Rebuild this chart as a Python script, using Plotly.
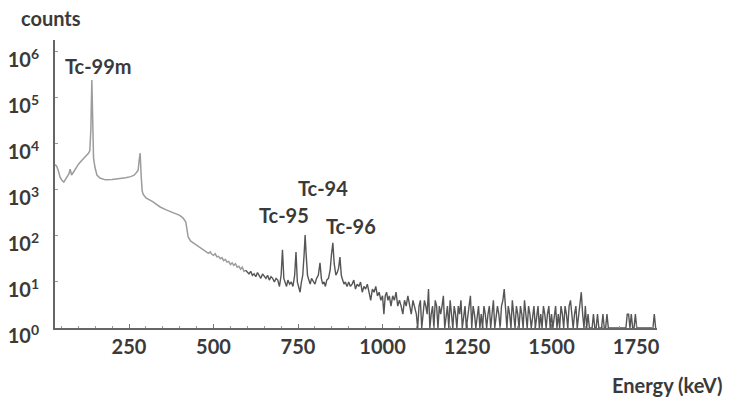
import plotly.graph_objects as go

# Gamma spectrum (energy in keV, counts)
energy_low = [31, 36, 41, 46, 52, 57, 62, 67, 72, 76, 80, 85, 92, 100, 108, 116, 124, 130, 134, 137, 140, 142, 145, 149, 155, 164,
              180, 200, 220, 240, 255, 265, 272, 277, 280, 283, 286, 289, 292, 300, 320, 342, 360, 380, 400, 410, 418, 425, 432,
              440, 450, 460, 470, 480, 485, 490, 495, 500, 505, 510, 515, 520, 525, 530, 535, 540, 545, 550, 555, 560, 565,
              570, 575, 580, 585, 590, 595]
counts_low = [3550, 3300, 2600, 1900, 1600, 1480, 1700, 2000, 2240, 2820, 2100, 2400, 3000, 3600, 4200, 4800, 5600, 6300, 7100,
              20000, 245000, 31600, 5000, 3160, 2100, 1820, 1660, 1700, 1750, 1850, 1950, 2100, 2400, 2690, 4500, 6300, 2000,
              950, 800, 676, 560, 427, 370, 316, 280, 245, 200, 95, 78, 71, 63, 58, 50, 46, 42, 45, 40, 38, 41, 35, 36, 32, 34,
              29, 31, 27, 28, 24, 26, 23, 25, 21, 22, 19, 21, 17, 18]

energy_mid = [600, 605, 610, 615, 620, 625, 630, 635, 640, 645, 650, 655, 660, 665, 670, 675, 680, 685, 690, 695, 700, 704,
              708, 712, 716, 720, 725, 730, 735, 740, 744, 748, 752, 756, 760, 764, 768, 771, 774, 778, 782, 786, 790, 795,
              800, 805, 810, 815, 819, 823, 827, 831, 835, 840, 845, 849, 853, 857, 862, 866, 870, 874, 878, 882, 886, 890,
              895, 900, 905, 910, 915, 920, 925, 930, 935, 940, 945, 950, 955, 960, 965, 970, 975, 980, 985, 990, 995, 1000,
              1004, 1008, 1012, 1016, 1020, 1025, 1030, 1035, 1040, 1045, 1050, 1055, 1060, 1065, 1070, 1075, 1080, 1085,
              1090, 1095]
counts_mid = [16, 15, 17, 14, 15, 13, 16, 14, 12, 15, 13, 12, 14, 11, 13, 12, 10, 12, 11, 8, 14, 50,
              12, 10, 8, 11, 9, 10, 8, 14, 45, 10, 7, 6, 10, 14, 40, 105, 40, 14, 11, 9, 12, 10,
              9, 12, 14, 26, 12, 9, 10, 8, 11, 12, 18, 40, 71, 25, 14, 16, 20, 35, 14, 11, 9, 10,
              8, 10, 8, 9, 11, 7, 9, 8, 10, 6, 8, 7, 9, 6, 4, 7, 6, 8, 5, 6, 4, 5,
              2, 5, 6, 4, 5, 3, 5, 4, 6, 3, 4, 3, 2, 4, 3, 5, 3, 2,
              4, 3]

energy_high = [1100, 1104, 1108, 1112, 1116, 1120, 1124, 1128, 1132, 1136, 1140, 1144, 1148, 1152, 1156, 1160, 1164, 1168,
               1172, 1176, 1180, 1184, 1188, 1192, 1196, 1200, 1204, 1208, 1212, 1216, 1220, 1224, 1228, 1232, 1236, 1240,
               1244, 1248, 1252, 1256, 1260, 1264, 1268, 1272, 1276, 1280, 1284, 1288, 1292, 1296, 1300, 1304, 1308, 1312,
               1316, 1320, 1324, 1328, 1332, 1336, 1340, 1344, 1348, 1352, 1356, 1360, 1364, 1368, 1372, 1376, 1380, 1384,
               1388, 1392, 1396, 1400, 1404, 1408, 1412, 1416, 1420, 1424, 1428, 1432, 1436, 1440, 1444, 1448, 1452, 1456,
               1460, 1464, 1468, 1472, 1476, 1480, 1484, 1488, 1492, 1496, 1500, 1504, 1508, 1512, 1516, 1520, 1524, 1528,
               1532, 1536, 1540, 1544, 1548, 1552, 1556, 1560, 1564, 1568, 1572, 1576, 1580, 1584, 1588, 1592, 1596, 1600,
               1604, 1608, 1612, 1616, 1620, 1624, 1628, 1632, 1636, 1640, 1644, 1648, 1652, 1656, 1660, 1664, 1668, 1672,
               1680, 1690, 1700, 1710, 1720, 1724, 1728, 1732, 1736, 1740, 1744, 1748, 1752, 1760, 1770, 1780, 1790, 1800,
               1804, 1808]
counts_high = [2, 1, 3, 4, 1, 2, 4, 3, 2, 7, 1, 2, 3, 1, 4, 3, 1, 3,
               2, 3, 5, 1, 2, 3, 1, 4, 2, 1, 3, 2, 1, 3, 2, 4, 1, 2,
               3, 1, 2, 3, 5, 1, 3, 2, 1, 2, 3, 1, 2, 1, 3, 2, 1, 2,
               3, 1, 2, 4, 1, 2, 3, 2, 1, 3, 4, 7, 2, 1, 3, 2, 1, 4,
               2, 1, 3, 2, 1, 3, 2, 1, 4, 2, 1, 3, 2, 1, 2, 3, 1, 2,
               3, 1, 2, 1, 3, 2, 1, 2, 3, 1, 2, 1, 2, 3, 1, 2, 1, 3,
               2, 1, 3, 2, 1, 3, 4, 2, 1, 2, 3, 1, 2, 3, 6, 2, 1, 3,
               1, 2, 1, 1, 1, 2, 1, 1, 2, 1, 1, 1, 2, 1, 1, 2, 1, 1,
               1, 1, 1, 1, 1, 2, 2, 1, 2, 1, 1, 2, 1, 1, 1, 1, 1, 1,
               2, 1]

x_tick_vals = [250, 500, 750, 1000, 1250, 1500, 1750]
x_tick_text = ["250", "500", "750", "1000", "1250", "1500", "1750"]
y_tick_vals = [1, 10, 100, 1000, 10000, 100000, 1000000]
y_tick_text = ["10<sup>0</sup>", "10<sup>1</sup>", "10<sup>2</sup>", "10<sup>3</sup>",
               "10<sup>4</sup>", "10<sup>5</sup>", "10<sup>6</sup>"]

peak_labels = ["Tc-99m", "Tc-95", "Tc-94", "Tc-96"]

TXT = "#3a3a3a"
FONT = "Lato"

fig = go.Figure()
# smooth low-energy part (lighter grey)
fig.add_trace(go.Scatter(x=energy_low, y=counts_low, mode="lines",
                         line=dict(color="#9c9c9c", width=1.5), hoverinfo="skip"))
# noisy high-energy part (darker grey), joined to the last low-energy channel
fig.add_trace(go.Scatter(x=energy_low[-1:] + energy_mid + energy_high,
                         y=counts_low[-1:] + counts_mid + counts_high, mode="lines",
                         line=dict(color="#555555", width=1.4), hoverinfo="skip"))

fig.update_layout(
    width=730, height=398,
    margin=dict(l=55, r=73, t=40, b=70, autoexpand=False),
    paper_bgcolor="white", plot_bgcolor="white",
    showlegend=False,
    font=dict(family=FONT, color=TXT),
)
fig.update_xaxes(
    range=[31, 1812], showgrid=False, zeroline=False, automargin=False,
    showline=True, linecolor="#666", linewidth=2,
    tickvals=x_tick_vals, ticktext=x_tick_text,
    ticks="inside", ticklen=4, tickcolor="#777",
    minor=dict(dtick=50, ticks="inside", ticklen=2, tickcolor="#999"),
    tickfont=dict(family=FONT, size=20, color=TXT, weight="bold"),
)
fig.update_yaxes(
    type="log", range=[0, 6.26], showgrid=False, zeroline=False, automargin=False,
    showline=True, linecolor="#666", linewidth=2,
    tickvals=y_tick_vals, ticktext=y_tick_text,
    ticks="inside", ticklen=3, tickcolor="#999",
    ticklabelstandoff=10, ticklabelshift=8,
    tickfont=dict(family=FONT, size=20, color=TXT, weight="bold"),
)

ann_pos = [(0.073, 0.910), (0.380, 0.392), (0.445, 0.486), (0.492, 0.354)]
for lbl, (ax_, ay_) in zip(peak_labels, ann_pos):
    fig.add_annotation(x=ax_, y=ay_, xref="paper", yref="paper", text="<b>" + lbl + "</b>",
                       xanchor="center", yanchor="middle",
                       showarrow=False, font=dict(family=FONT, size=20, color=TXT))

fig.add_annotation(x=-0.007, y=1.076, xref="paper", yref="paper", text="<b>counts</b>",
                   xanchor="center", yanchor="middle",
                   showarrow=False, font=dict(family=FONT, size=20, color=TXT))
fig.add_annotation(x=1.017, y=-0.198, xref="paper", yref="paper", text="<b>Energy (keV)</b>",
                   xanchor="center", yanchor="middle",
                   showarrow=False, font=dict(family=FONT, size=20, color=TXT))

fig.write_html("out.html", config={"displayModeBar": False},
               post_script="document.body.style.margin='0';document.body.style.overflow='hidden';")
